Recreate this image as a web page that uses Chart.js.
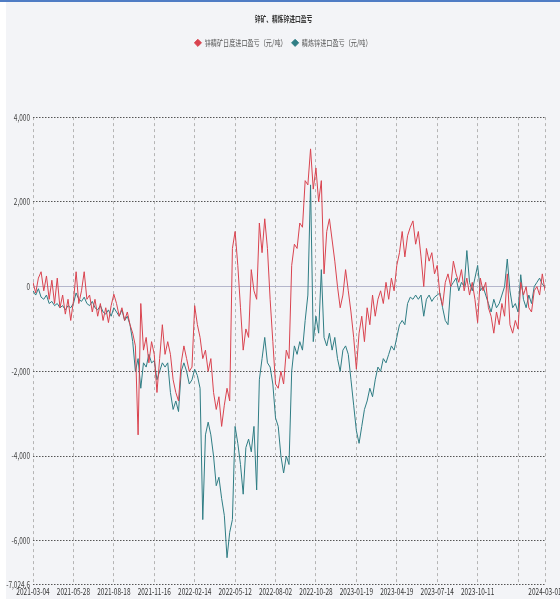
<!DOCTYPE html>
<html>
<head>
<meta charset="utf-8">
<script src="https://cdn.jsdelivr.net/npm/chart.js@4.4.0/dist/chart.umd.min.js"></script>
<style>
  html, body { margin: 0; padding: 0; }
  body { width: 560px; height: 599px; overflow: hidden;
         background: linear-gradient(to right, #ffffff 0 6px, #f3f4f7 6px); }
  #wrap { position: relative; width: 560px; height: 597px; border-top: 2px solid #4f7cc4; }
</style>
</head>
<body>
<div id="wrap"><canvas id="chart"></canvas></div>
<script>
// Zinc concentrate / refined zinc import profit & loss (yuan/t)
const TITLE = '锌矿、精炼锌进口盈亏';
const SERIES_NAMES = ['锌精矿日度进口盈亏（元/吨）', '精炼锌进口盈亏（元/吨）'];

// x tick positions (point index) and their date labels
const tickIndex = [0, 15, 30, 45, 60, 75, 90, 105, 120, 135, 150, 165, 180, 190];
const tickDates = ['2021-03-04', '2021-05-28', '2021-08-18', '2021-11-16', '2022-02-14', '2022-05-12',
  '2022-08-02', '2022-10-28', '2023-01-19', '2023-04-19', '2023-07-14', '2023-10-11', '', '2024-03-01'];

// y ticks
const yTicks = [4000, 2000, 0, -2000, -4000, -6000, -7024.6];

// zinc concentrate daily import P&L
const concentrate = [
  100, -150, 200, 350, -100, 250, -300, 150, -400, 200, -500, -200, -650, -300, -800, -350,
  350, -400, -100, 350, -300, -200, -600, -300, -700, -400, -800, -500, -850, -450, -180,
  -400, -700, -500, -800, -600, -900, -1100, -1400, -3500, -400, -1500, -1200, -1800, -1300, -1600,
  -2500, -1700, -900, -1600, -1300, -1600, -2200, -2500, -2700, -1800, -1400, -1700, -2000, -1900, -450,
  -900, -1200, -1700, -1500, -2000, -1700, -2500, -2900, -2600, -3300, -2800, -2400, -2700, 900, 1300,
  500, -500, -1500, -1000, -1200, 400, -100, -300, 1500, 800, 1600, 900, -300, -1300, -2300,
  -2400, -2000, -2300, -1500, -1700, 500, 1000, 900, 1500, 1400, 2500, 2400, 3250, 2300, 2800,
  2000, 2500, 300, 1300, 1600, 1100, 600, 0, -500, -200, 400, -100, -600, -1200, -1950,
  -1100, -700, -1300, -500, -900, -200, -700, -300, -100, -400, 100, -300, 200, -100, 500,
  800, 1300, 700, 1200, 1400, 1550, 1000, 1300, 700, 0, 900, 600, 800, 300, 500,
  -200, -450, 100, 300, 0, 600, 300, 100, 400, -100, 200, -200, 100, -300, -850,
  200, -100, 100, -500, -700, -1100, -600, -900, -400, -700, 300, -900, -1100, -800, -1000,
  100, -200, 0, -500, -600, -100, 0, -200, 300, -100
];

// refined zinc import P&L
const refined = [
  -100, -200, -50, -250, -300, -200, -400, -350, -450, -400, -500, -450, -550, -450, -500, -400,
  -150, -300, -350, -250, -400, -450, -350, -500, -550, -450, -600, -650, -550, -700, -500,
  -600, -700, -550, -800, -700, -900, -1300, -2000, -1700, -2400, -1800, -1900, -1600, -1800, -1750,
  -2200, -2000, -1800, -1900, -1800, -2500, -2900, -2700, -2950, -2000, -1800, -2000, -2300, -2200, -1950,
  -2100, -2400, -5500, -3500, -3200, -3500, -4000, -4700, -4500, -5000, -5400, -6400, -5800, -5500, -3300,
  -3700, -4200, -4900, -3800, -3600, -3900, -3300, -4800, -2200, -1700, -1200, -1800, -1900, -2300, -3100,
  -3300, -4000, -4400, -4000, -4200, -2000, -1400, -1600, -1300, -1500, -800, -200, 2400, -1300, -700,
  -1100, 400, -1200, -1400, -1100, -1500, -1200, -1700, -2000, -1500, -1400, -1600, -2200, -2800, -3400,
  -3700, -3300, -2900, -2700, -2400, -2600, -2200, -1900, -2000, -1700, -1800, -1600, -1400, -1500, -1200,
  -900, -800, -900, -400, -250, -300, -200, -300, -200, -700, -300, -200, -350, -250, -200,
  -150, -500, -800, -900, 0, 100, 200, -100, 100, 0, 850, 100, -100, 200, 500,
  -100, 0, -200, -400, -600, -300, -500, -400, -200, 0, 650, -100, -500, -400, -600,
  280, -300, -500, -200, -400, 0, 100, 200, 50, 0
];

const RED = '#d9434f';
const TEAL = '#2f7d84';
const FONT = "'Noto Sans CJK SC', 'Liberation Sans', sans-serif";

const toPoints = arr => arr.map((v, i) => ({ x: i, y: v }));

// the source renders its text horizontally squeezed; mimic that on the canvas
const SQUEEZE = 0.72;
const ctx = document.getElementById('chart').getContext('2d');
const rawFill = ctx.fillText.bind(ctx);
const rawMeasure = ctx.measureText.bind(ctx);
ctx.fillText = function (t, x, y) {
  this.save(); this.translate(x, y); this.scale(SQUEEZE, 1); rawFill(t, 0, 0); this.restore();
};
ctx.measureText = function (t) {
  const m = rawMeasure(t);
  return { width: m.width * SQUEEZE,
    actualBoundingBoxAscent: m.actualBoundingBoxAscent, actualBoundingBoxDescent: m.actualBoundingBoxDescent,
    actualBoundingBoxLeft: m.actualBoundingBoxLeft * SQUEEZE, actualBoundingBoxRight: m.actualBoundingBoxRight * SQUEEZE };
};

// push the plot area down below the legend
const legendGap = {
  id: 'legendGap',
  afterInit(chart) {
    const fit = chart.legend.fit;
    chart.legend.fit = function () { fit.bind(chart.legend)(); this.height += 60; };
  }
};

new Chart(ctx, {
  type: 'line',
  data: {
    datasets: [
      { label: SERIES_NAMES[0], data: toPoints(concentrate), borderColor: RED, backgroundColor: RED,
        borderWidth: 1, pointRadius: 0, tension: 0 },
      { label: SERIES_NAMES[1], data: toPoints(refined), borderColor: TEAL, backgroundColor: TEAL,
        borderWidth: 1, pointRadius: 0, tension: 0 }
    ]
  },
  options: {
    responsive: true,
    maintainAspectRatio: false,
    animation: false,
    layout: { padding: { left: 22, right: 15, top: 0, bottom: 0 } },
    plugins: {
      title: { display: true, text: TITLE, color: '#333', font: { family: FONT, size: 8, weight: 'bold' },
        padding: { top: 12, bottom: 9 } },
      legend: {
        labels: { usePointStyle: true, pointStyle: 'rectRot', boxHeight: 5, boxWidth: 5, padding: 6,
          color: '#555', font: { family: FONT, size: 8.5 } }
      },
      tooltip: { enabled: false }
    },
    scales: {
      x: {
        type: 'linear', min: 0, max: 190,
        afterBuildTicks: s => { s.ticks = tickIndex.map(v => ({ value: v })); },
        afterFit: s => { s.paddingRight = 0; s.paddingLeft = 0; },
        ticks: { autoSkip: false, maxRotation: 0, padding: 2, color: '#333',
          font: { family: FONT, size: 9 },
          callback: v => tickDates[tickIndex.indexOf(v)] },
        grid: { color: '#b5b5b5', drawTicks: false },
        border: { display: false, dash: [3, 3] }
      },
      y: {
        min: -7024.6, max: 4000,
        afterBuildTicks: s => { s.ticks = yTicks.map(v => ({ value: v })); },
        // narrow box, labels allowed to spill into the left padding
        afterFit: s => { s.width = 11; s._computeLabelArea = () => undefined; },
        ticks: { padding: 3, color: '#444', font: { family: FONT, size: 9 },
          callback: v => v.toLocaleString('en-US') },
        grid: { drawTicks: false, color: c => c.tick && c.tick.value === 0 ? '#b4b6cc' : '#555' },
        border: { display: false, dash: c => c.tick && c.tick.value === 0 ? [] : [1.5, 1.5] }
      }
    }
  },
  plugins: [legendGap]
});
</script>
</body>
</html>
